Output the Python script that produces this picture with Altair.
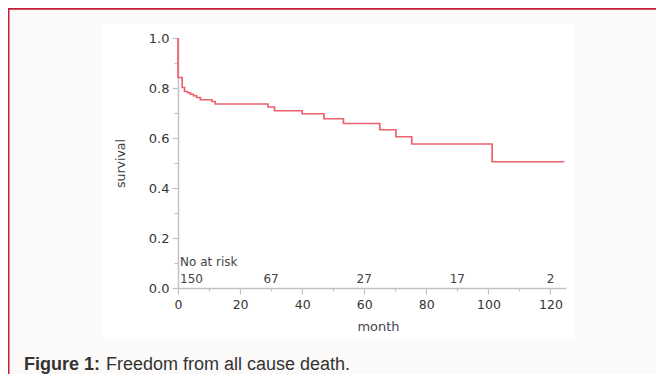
import altair as alt
import pandas as pd

# Kaplan-Meier steps
months = [0, 0, 1.35, 2.1, 3.1, 4.0, 5.0, 6.0, 7.2, 10.9, 12.0, 29.0, 31.1, 40.0, 47.0, 53.3, 65.0, 70.2, 75.3, 101.2, 124.5]
survival = [1.0, 0.842, 0.802, 0.786, 0.781, 0.775, 0.769, 0.762, 0.753, 0.746, 0.736, 0.724, 0.709, 0.697, 0.677, 0.658, 0.633, 0.605, 0.576, 0.505, 0.505]

# numbers at risk
risk_months = [0, 30, 60, 90, 120]
risk_counts = [150, 67, 27, 17, 2]

x_ticks = [0, 10, 20, 30, 40, 50, 60, 70, 80, 90, 100, 110, 120]
y_ticks = [0.0, 0.1, 0.2, 0.3, 0.4, 0.5, 0.6, 0.7, 0.8, 0.9, 1.0]

caption_bold = "Figure 1:"
caption_text = "Freedom from all cause death."
risk_title = "No at risk"

df_line = pd.DataFrame({"month": months, "survival": survival, "i": list(range(len(months)))})
df_risk = pd.DataFrame({"month": risk_months, "count": risk_counts})
one = pd.DataFrame({"a": [0]})

PINK = "#fcf9f9"
FRAME = "#c41e3a"
AXC = "#c2c2c2"
FONT = "DejaVu Sans"

xscale = alt.Scale(domain=[0, 125], nice=False, zero=False)
yscale = alt.Scale(domain=[0, 1], nice=False)

x_axis = alt.Axis(
    values=x_ticks,
    labelExpr="datum.value % 20 === 0 ? datum.label : ''",
    tickSize={"condition": {"test": "datum.value % 20 === 0", "value": 6}, "value": 3},
    domainColor=AXC, domainWidth=1.5, tickColor=AXC, tickWidth=1.2,
    labelFont=FONT, labelFontSize=12.5, labelColor="#363636", labelPadding=4,
    labelFlush=False, labelOverlap=False, grid=False,
    title="month", titleFont=FONT, titleFontSize=13, titleFontWeight="normal",
    titleColor="#4a3f4c", titleX=200, titleY=42.5, titleBaseline="alphabetic", titleAlign="center",
)
y_axis = alt.Axis(
    values=y_ticks,
    labelExpr="round(datum.value*10) % 2 === 0 ? format(datum.value, '.1f') : ''",
    tickSize={"condition": {"test": "round(datum.value*10) % 2 === 0", "value": 6}, "value": 4},
    domainColor=AXC, domainWidth=1.5, tickColor=AXC, tickWidth=1.2,
    labelFont=FONT, labelFontSize=13, labelColor="#363636", labelPadding=3,
    labelOverlap=False, grid=False,
    title="survival", titleFont=FONT, titleFontSize=12.5, titleFontWeight="normal",
    titleColor="#3d3d3d", titleAngle=270, titleX=-54, titleY=125,
    titleBaseline="alphabetic", titleAlign="center",
)

RIGHT = 478   # svg right edge in plot coords (648 - 170)
BOTTOM = 336  # svg bottom edge in plot coords (366 - 30)

def band(x1, x2, y1, y2, color):
    return alt.Chart(one).mark_rect(color=color).encode(
        x=alt.value(x1), x2=alt.value(x2), y=alt.value(y1), y2=alt.value(y2)
    )

bands = [
    band(-170, RIGHT, -30, -14, PINK),
    band(-170, RIGHT, 301, BOTTOM, PINK),
    band(-170, -76, -14, 301, PINK),
    band(396, RIGHT, -14, 301, PINK),
    band(-170, RIGHT, -30, -28.3, FRAME),
    band(-170, -168.5, -30, BOTTOM, FRAME),
]

line = alt.Chart(df_line).mark_line(
    interpolate="step-after", color="#f0616f", strokeWidth=1.7
).encode(
    x=alt.X("month:Q", scale=xscale, axis=x_axis),
    y=alt.Y("survival:Q", scale=yscale, axis=y_axis),
    order="i:Q",
)

risk_first = alt.Chart(df_risk).transform_filter("datum.month === 0").mark_text(
    align="left", baseline="alphabetic", font=FONT, fontSize=12, color="#444444", dx=2
).encode(
    x=alt.X("month:Q", scale=xscale, axis=x_axis),
    y=alt.value(245.3),
    text="count:Q",
)
risk_rest = alt.Chart(df_risk).transform_filter("datum.month > 0").mark_text(
    align="center", baseline="alphabetic", font=FONT, fontSize=12, color="#444444"
).encode(
    x=alt.X("month:Q", scale=xscale, axis=x_axis),
    y=alt.value(245.3),
    text="count:Q",
)
risk_label = alt.Chart(one).mark_text(
    align="left", baseline="alphabetic", font=FONT, fontSize=12, color="#444444"
).encode(x=alt.value(2), y=alt.value(228), text=alt.value(risk_title))

cap1 = alt.Chart(one).mark_text(
    align="left", baseline="alphabetic", font="Liberation Sans", fontSize=18,
    fontWeight="bold", color="#333333"
).encode(x=alt.value(-154), y=alt.value(332), text=alt.value(caption_bold))
cap2 = alt.Chart(one).mark_text(
    align="left", baseline="alphabetic", font="Liberation Sans", fontSize=18,
    color="#333333"
).encode(x=alt.value(-72), y=alt.value(332), text=alt.value(caption_text))

chart = alt.layer(*bands, line, risk_first, risk_rest, risk_label, cap1, cap2).properties(
    width=388, height=250,
    autosize=alt.AutoSizeParams(type="none"),
    padding={"left": 170, "top": 30, "right": 90, "bottom": 86},
    background="white",
).configure_view(stroke=None)

chart.save("out.html", embed_options={"renderer": "svg", "actions": False})
